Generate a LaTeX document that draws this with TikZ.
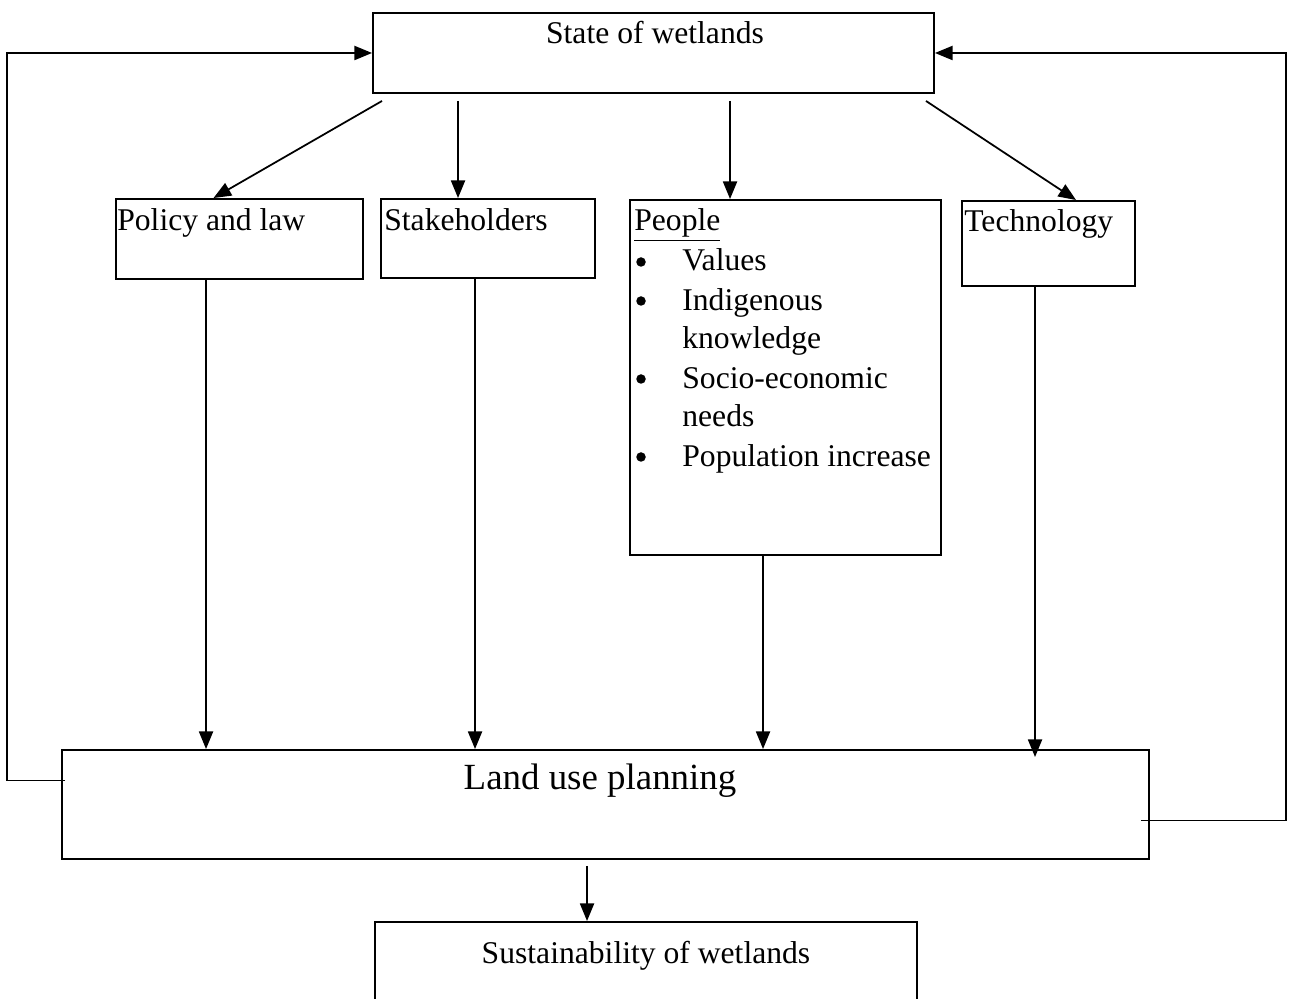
\documentclass[tikz,border=0pt]{standalone}
\usepackage{fontspec}
\setmainfont{Liberation Serif}
\usetikzlibrary{arrows.meta, fit}

\tikzset{
  box/.style={draw, line width=1.1pt, inner sep=0pt},
  arr/.style={draw, line width=1pt, -{Triangle[length=10pt, width=8pt]}},
  lbl/.style={font=\fontsize{18}{22}\selectfont, inner sep=0pt},
  dot/.style={circle, fill, inner sep=0pt, minimum size=0.19cm},
}

\begin{document}
\begin{tikzpicture}[x=0.02cm, y=-0.02cm]
\useasboundingbox (0,0) rectangle (1296,999);
% boxes
\node[box, fit={(373,13) (934,93)}] (state) {};
\node[box, fit={(116,199) (363,279)}] (policy) {};
\node[box, fit={(381,199) (595,278)}] (stake) {};
\node[box, fit={(630,200) (941,555)}] (people) {};
\node[box, fit={(962,201) (1135,286)}] (tech) {};
\node[box, fit={(62,750) (1149,859)}] (land) {};
\node[box, fit={(375,922) (917,1010)}] (sust) {};
% texts
\node[lbl, anchor=base] (statetxt) at (655,44) {State of wetlands};
\node[lbl, anchor=base west] (policytxt) at (117,231) {Policy and law};
\node[lbl, anchor=base west] (staketxt) at (384,231) {Stakeholders};
\node[lbl, anchor=base west] (techtxt) at (964,232) {Technology};
\node[lbl, anchor=base, font=\fontsize{21}{25}\selectfont] (landtxt) at (600,790) {Land use planning};
\node[lbl, anchor=base] (susttxt) at (646,964) {Sustainability of wetlands};
\node[lbl, anchor=base west] (ppltxt) at (634,231) {\underline{People}};
\foreach \t/\y [count=\i] in {Values/271, Indigenous/311, knowledge/349,
    Socio-economic/389, needs/427, Population increase/467}
  \node[lbl, anchor=base west] (pl\i) at (682,\y) {\t};
\foreach \y [count=\i] in {262, 301, 379, 457}
  \node[dot] (bul\i) at (641,\y) {};
% arrows from the state of wetlands
\draw[arr] ([shift={(10,7)}]state.south west) -- ([shift={(-26,0)}]policy.north);
\draw[arr] ([shift={(86,7)}]state.south west) -- ([shift={(78,0)}]stake.north west);
\draw[arr] ([shift={(358,7)}]state.south west) -- ([shift={(101,0)}]people.north west);
\draw[arr] ([shift={(-9,7)}]state.south east) -- ([shift={(115,0)}]tech.north west);
% arrows into land use planning
\draw[arr] ([shift={(91,0)}]policy.south west) -- ([shift={(145,0)}]land.north west);
\draw[arr] ([shift={(95,0)}]stake.south west) -- ([shift={(414,0)}]land.north west);
\draw[arr] ([shift={(134,0)}]people.south west) -- ([shift={(702,0)}]land.north west);
\draw[arr] ([shift={(74,0)}]tech.south west) -- ([shift={(974,8)}]land.north west);
\draw[arr] ([shift={(526,6)}]land.south west) -- ([shift={(213,0)}]sust.north west);
% feedback loops
\draw[arr] ([shift={(4,-24)}]land.west) -- ++(-58,0) |- (state.west);
\draw[arr] ([shift={(-9,16)}]land.east) -- ++(145,0) |- (state.east);
\end{tikzpicture}
\end{document}
